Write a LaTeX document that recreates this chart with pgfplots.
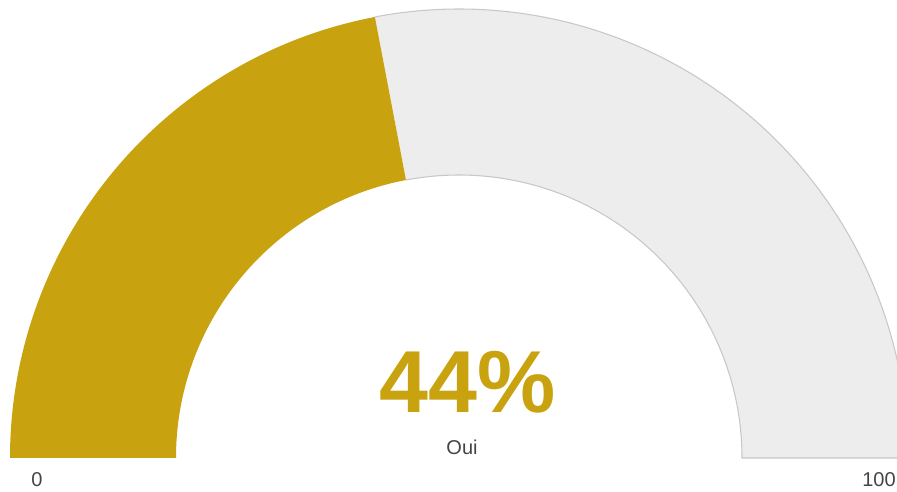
\documentclass[border=0pt]{standalone}
\usepackage{pgfplots}
\pgfplotsset{compat=1.18}
\usepackage{fontspec}
\setmainfont{Liberation Sans}
\definecolor{gold}{RGB}{201,163,15}
\definecolor{gbg}{RGB}{237,237,237}
\definecolor{gbd}{RGB}{200,200,200}
\definecolor{txt}{RGB}{68,68,68}
\begin{document}
\begin{tikzpicture}
\begin{axis}[at={(0,0)}, anchor=south west, scale only axis,
  width=672.75pt, height=369pt, xmin=0, xmax=897, ymin=0, ymax=492,
  hide axis, clip=false]
\pgfmathsetmacro{\val}{44}
\pgfmathsetmacro{\ang}{180-1.8*\val}
\begin{scope}[shift={(axis cs:459,34)}]
  \fill[gbg] (\ang:336.75pt) arc[start angle=\ang, end angle=0, radius=336.75pt]
     -- (0:212.25pt) arc[start angle=0, end angle=\ang, radius=212.25pt] -- cycle;
  \draw[gbd, line width=0.8pt] (\ang:336.75pt) arc[start angle=\ang, end angle=0, radius=336.75pt]
     -- (0:212.25pt) arc[start angle=0, end angle=\ang, radius=212.25pt];
  \fill[gold] (180:336.75pt) arc[start angle=180, end angle=\ang, radius=336.75pt]
     -- (\ang:212.25pt) arc[start angle=\ang, end angle=180, radius=212.25pt] -- cycle;
\end{scope}
\node[anchor=base, text=gold, font=\fontsize{66}{70}\selectfont\bfseries, inner sep=0pt] at (axis cs:468,79) {44\%};
\node[anchor=base, text=txt, font=\fontsize{15}{18}\selectfont, inner sep=0pt] at (axis cs:462,37) {Oui};
\node[anchor=base, text=txt, font=\fontsize{15}{18}\selectfont, inner sep=0pt] at (axis cs:37,5) {0};
\node[anchor=base west, text=txt, font=\fontsize{15}{18}\selectfont, inner sep=0pt] at (axis cs:862,5) {100};
\end{axis}
\pgfresetboundingbox
\path (0,0) rectangle (672.75pt,369pt);
\end{tikzpicture}
\end{document}
